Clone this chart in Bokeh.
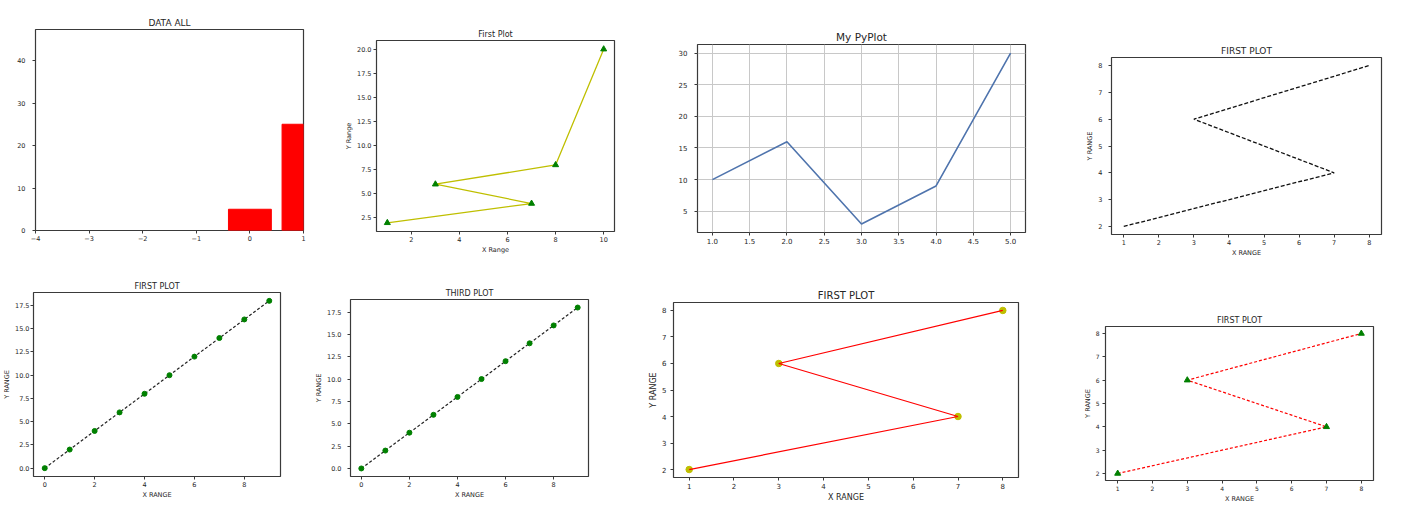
from bokeh.plotting import figure
from bokeh.layouts import row, column
from bokeh.models import FixedTicker, Range1d, Spacer
from bokeh.embed import file_html
from bokeh.resources import INLINE

# ---------------- data ----------------
bar_x = [0, 1]
bar_h = [5, 25]
bar_xticks = [-4, -3, -2, -1, 0, 1]
bar_xlabels = ["−4", "−3", "−2", "−1", "0", "1"]
bar_yticks = [0, 10, 20, 30, 40]
bar_ylabels = ["0", "10", "20", "30", "40"]

first_x = [1, 7, 3, 8, 10]
first_y = [2, 4, 6, 8, 20]
first_xticks = [2, 4, 6, 8, 10]
first_xlabels = ["2", "4", "6", "8", "10"]
first_yticks = [2.5, 5.0, 7.5, 10.0, 12.5, 15.0, 17.5, 20.0]
first_ylabels = ["2.5", "5.0", "7.5", "10.0", "12.5", "15.0", "17.5", "20.0"]

py_x = [1, 2, 3, 4, 5]
py_y = [10, 16, 3, 9, 30]
py_xticks = [1.0, 1.5, 2.0, 2.5, 3.0, 3.5, 4.0, 4.5, 5.0]
py_xlabels = ["1.0", "1.5", "2.0", "2.5", "3.0", "3.5", "4.0", "4.5", "5.0"]
py_yticks = [5, 10, 15, 20, 25, 30]
py_ylabels = ["5", "10", "15", "20", "25", "30"]

zig_x = [1, 7, 3, 8]
zig_y = [2, 4, 6, 8]
zig_xticks = [1, 2, 3, 4, 5, 6, 7, 8]
zig_xlabels = ["1", "2", "3", "4", "5", "6", "7", "8"]
zig_yticks = [2, 3, 4, 5, 6, 7, 8]
zig_ylabels = ["2", "3", "4", "5", "6", "7", "8"]

lin_x = [0, 1, 2, 3, 4, 5, 6, 7, 8, 9]
lin_y = [0, 2, 4, 6, 8, 10, 12, 14, 16, 18]
lin_xticks = [0, 2, 4, 6, 8]
lin_xlabels = ["0", "2", "4", "6", "8"]
lin_yticks = [0.0, 2.5, 5.0, 7.5, 10.0, 12.5, 15.0, 17.5]
lin_ylabels = ["0.0", "2.5", "5.0", "7.5", "10.0", "12.5", "15.0", "17.5"]

FONT = "DejaVu Sans"
TXT = "#262626"
T1, B1 = 20, 24   # top-row borders
T2, B2 = 20, 24   # bottom-row borders


def pad(vals, frac=0.05):
    lo, hi = min(vals), max(vals)
    d = (hi - lo) * frac
    return (lo - d, hi + d)


def make_fig(title, fw, fh, left, right, top, bottom, xr, yr,
             xticks, xlabels, yticks, ylabels,
             tsize=8, lsize=6.5, asize=6.5, xlabel=None, ylabel=None,
             grid=False, ystand=3):
    p = figure(frame_width=fw, frame_height=fh,
               min_border_left=left, min_border_right=right,
               min_border_top=top, min_border_bottom=bottom,
               x_range=Range1d(*xr), y_range=Range1d(*yr),
               output_backend="svg", toolbar_location=None, title=title)
    p.title.align = "center"
    p.title.text_font = FONT
    p.title.text_font_style = "normal"
    p.title.text_font_size = f"{tsize}px"
    p.title.text_color = TXT
    p.title.standoff = 3
    p.outline_line_color = "#3a3a3a"
    p.outline_line_width = 1.2
    p.background_fill_color = "white"
    p.border_fill_color = "white"
    for ax, ticks, labels, lab, st in [(p.xaxis[0], xticks, xlabels, xlabel, 2),
                                       (p.yaxis[0], yticks, ylabels, ylabel, ystand)]:
        ax.ticker = FixedTicker(ticks=ticks)
        ax.major_label_overrides = dict(zip(ticks, labels))
        ax.major_label_text_font = FONT
        ax.major_label_text_font_size = f"{lsize}px"
        ax.major_label_text_color = TXT
        ax.major_label_standoff = st
        ax.major_tick_in = 0
        ax.major_tick_out = 3
        ax.major_tick_line_color = "#3a3a3a"
        ax.minor_tick_line_color = None
        ax.axis_line_color = None
        if lab:
            ax.axis_label = lab
            ax.axis_label_text_font = FONT
            ax.axis_label_text_font_size = f"{asize}px"
            ax.axis_label_text_font_style = "normal"
            ax.axis_label_text_color = TXT
            ax.axis_label_standoff = 1
    if grid:
        p.xgrid.ticker = FixedTicker(ticks=xticks)
        p.ygrid.ticker = FixedTicker(ticks=yticks)
        p.grid.grid_line_color = "#c8c8c8"
        p.grid.grid_line_width = 1
    else:
        p.grid.grid_line_color = None
    return p


def place(p, dy, w):
    return column(Spacer(width=w, height=dy), p, spacing=0)


# ---------- top row ----------
f1 = make_fig("DATA ALL", 268, 201, 35, 37, T1, B1, (-4, 1), (0, 47.3),
              bar_xticks, bar_xlabels, bar_yticks, bar_ylabels,
              tsize=9, lsize=6.5, ystand=7)
f1.vbar(x=bar_x, top=bar_h, width=0.8, fill_color="#ff0000", line_color="#ff0000")

f2 = make_fig("First Plot", 238, 191, 36, 36, T1, B1, pad(first_x), pad(first_y),
              first_xticks, first_xlabels, first_yticks, first_ylabels,
              tsize=8, lsize=6.5, asize=6.5, xlabel="X Range", ylabel="Y Range", ystand=2)
f2.line(first_x, first_y, line_color="#bfbf00", line_width=1.3)
f2.scatter(first_x, first_y, marker="triangle", size=6, color="#008000")

f3 = make_fig("My PyPlot", 328, 188, 47, 40, T1, B1, pad(py_x), pad(py_y),
              py_xticks, py_xlabels, py_yticks, py_ylabels,
              tsize=10.5, lsize=7, grid=True, ystand=7)
f3.line(py_x, py_y, line_color="#4f74ad", line_width=1.6)

f4 = make_fig("FIRST PLOT", 270, 177, 46, 40, T1, B1, pad(zig_x), pad(zig_y),
              zig_xticks, zig_xlabels, zig_yticks, zig_ylabels,
              tsize=9, lsize=6.5, asize=6.5, xlabel="X RANGE", ylabel="Y RANGE", ystand=6)
f4.line(zig_x, zig_y, line_color="#111111", line_width=1.3, line_dash="4 2")

# ---------- bottom row ----------
f5 = make_fig("FIRST PLOT", 247, 184, 31, 32, T2, B2, pad(lin_x), pad(lin_y),
              lin_xticks, lin_xlabels, lin_yticks, lin_ylabels,
              tsize=8, lsize=6.5, asize=6.5, xlabel="X RANGE", ylabel="Y RANGE", ystand=1)
f5.line(lin_x, lin_y, line_color="#222222", line_width=1.2, line_dash="3 2")
f5.scatter(lin_x, lin_y, marker="circle", size=5, color="#008000")

f6 = make_fig("THIRD PLOT", 238, 177, 38, 44, T2, B2, pad(lin_x), pad(lin_y),
              lin_xticks, lin_xlabels, lin_yticks, lin_ylabels,
              tsize=8, lsize=6.5, asize=6.5, xlabel="X RANGE", ylabel="Y RANGE", ystand=6)
f6.line(lin_x, lin_y, line_color="#222222", line_width=1.2, line_dash="3 2")
f6.scatter(lin_x, lin_y, marker="circle", size=5, color="#008000")

f7 = make_fig("FIRST PLOT", 345, 175, 41, 44, T2, B2, pad(zig_x), pad(zig_y),
              zig_xticks, zig_xlabels, zig_yticks, zig_ylabels,
              tsize=10, lsize=7, asize=8, xlabel="X RANGE", ylabel="Y RANGE", ystand=4)
f7.scatter(zig_x, zig_y, marker="circle", size=6.5, color="#bfbf00")
f7.line(zig_x, zig_y, line_color="#ff0000", line_width=1.2)

f8 = make_fig("FIRST PLOT", 268, 154, 43, 40, T2, B2, pad(zig_x), pad(zig_y),
              zig_xticks, zig_xlabels, zig_yticks, zig_ylabels,
              tsize=8, lsize=6, asize=6.5, xlabel="X RANGE", ylabel="Y RANGE", ystand=3)
f8.line(zig_x, zig_y, line_color="#ff0000", line_width=1.2, line_dash="3 2")
f8.scatter(zig_x, zig_y, marker="triangle", size=6, color="#008000")

row1 = row(place(f1, 9, 340), place(f2, 20, 310), place(f3, 24, 415), place(f4, 37, 356), spacing=0)
row2 = row(place(f5, 13, 310), place(f6, 20, 320), place(f7, 23, 430), place(f8, 47, 351), spacing=0)
layout = column(row1, row2, spacing=0)

open("out.html", "w").write(file_html(layout, INLINE))
